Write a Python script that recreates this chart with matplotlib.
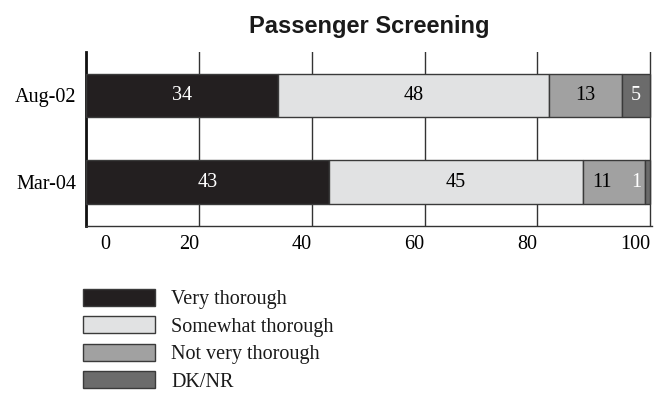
import matplotlib
matplotlib.use("Agg")
import matplotlib.pyplot as plt
from matplotlib.transforms import ScaledTranslation
import numpy as np

# Survey data: share of respondents (%) per rating
periods = ["Aug-02", "Mar-04"]
categories = ["Very thorough", "Somewhat thorough", "Not very thorough", "DK/NR"]
very_thorough = [34, 43]
somewhat_thorough = [48, 45]
not_very_thorough = [13, 11]
dk_nr = [5, 1]
series = [very_thorough, somewhat_thorough, not_very_thorough, dk_nr]

x_ticks = [0, 20, 40, 60, 80, 100]
x_tick_labels = ["0", "20", "40", "60", "80", "100"]

fill_colors = ["#231f20", "#e1e2e3", "#a1a1a1", "#6b6b6b"]
label_colors = ["white", "black", "black", "white"]

serif = "Liberation Serif"
sans = "Liberation Sans"
fs = 14.5

fig = plt.figure(figsize=(6.57, 3.96), dpi=100)
ax = fig.add_axes([86 / 657, (396 - 225.5) / 396, 566 / 657, 173.5 / 396])

y = np.arange(len(periods))
left = np.zeros(len(periods))
bars = []
for vals, col in zip(series, fill_colors):
    b = ax.barh(y, vals, left=left, height=0.5, color=col,
                edgecolor="#3a3a3a", linewidth=1.0, zorder=3)
    bars.append(b)
    left = left + np.array(vals)

# Value labels inside each segment (small trailing segments are nudged left)
nudges = {(2, 1): -12, (3, 1): -11}
for si, (b, vals) in enumerate(zip(bars, series)):
    for pi, rect in enumerate(b):
        v = vals[pi]
        cx = rect.get_x() + rect.get_width() / 2
        cy = rect.get_y() + rect.get_height() / 2
        ax.annotate(str(v), (cx, cy), xytext=(nudges.get((si, pi), 0), 0),
                    textcoords="offset pixels", ha="center", va="center",
                    fontsize=fs, family=serif, color=label_colors[si], zorder=5)

ax.set_xlim(0, 100.3)
ax.set_ylim(1.5, -0.5)
ax.set_yticks(y, periods)
ax.set_xticks(x_ticks, x_tick_labels)
ax.tick_params(axis="both", length=0, labelsize=fs)
ax.tick_params(axis="y", pad=7)
ax.tick_params(axis="x", pad=7)
for lab in ax.get_xticklabels() + ax.get_yticklabels():
    lab.set_family(serif)
for lab in ax.get_xticklabels():
    lab.set_ha("right")
first = ax.xaxis.get_major_ticks()[0].label1
first.set_transform(first.get_transform() + ScaledTranslation(24 / 100, 0, fig.dpi_scale_trans))

ax.grid(axis="x", color="#333333", linewidth=1.0, zorder=0)
ax.set_axisbelow(True)
for s in ["top", "right"]:
    ax.spines[s].set_visible(False)
ax.spines["left"].set_linewidth(2.0)
ax.spines["left"].set_color("#111111")
ax.spines["bottom"].set_linewidth(1.0)
ax.spines["bottom"].set_color("#333333")

ax.set_title("Passenger Screening", fontsize=17, fontweight="bold",
             family=sans, pad=14, color="#1a1a1a")

leg = fig.legend(handles=[b[0] for b in bars], labels=categories,
                 loc="upper left", bbox_to_anchor=(83 / 657, (396 - 289) / 396),
                 frameon=False, borderpad=0, borderaxespad=0,
                 handlelength=3.58, handleheight=0.92, handletextpad=0.8,
                 labelspacing=0.345, prop={"family": serif, "size": fs})
for t in leg.get_texts():
    t.set_color("#1a1a1a")

fig.savefig("out.png", dpi=100)
